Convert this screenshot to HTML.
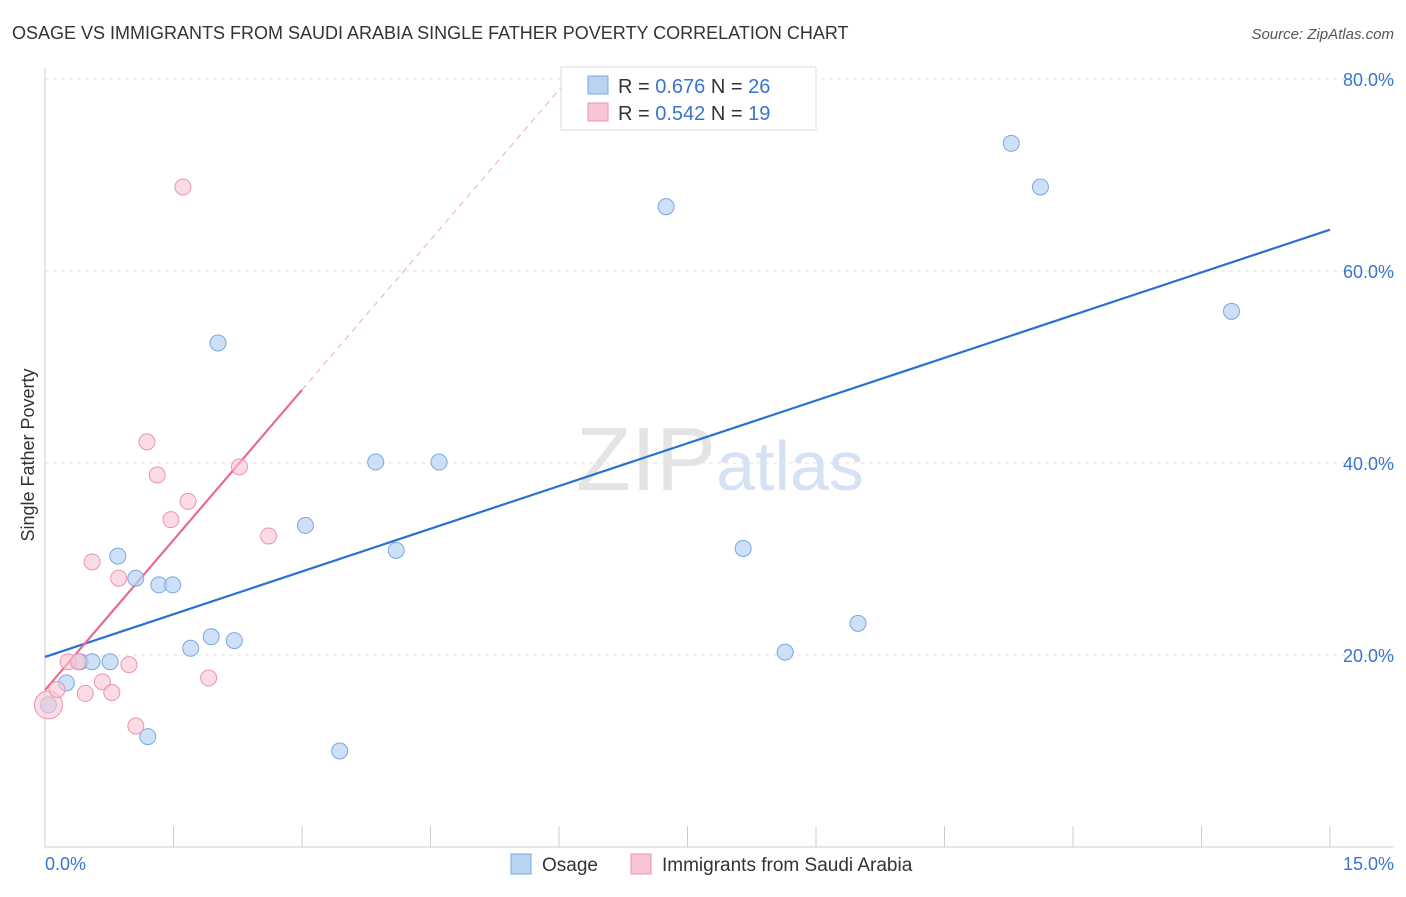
<!DOCTYPE html>
<html><head><meta charset="utf-8"><style>
body{margin:0;background:#fff;font-family:"Liberation Sans",sans-serif;}
svg text{font-family:"Liberation Sans",sans-serif;}
</style></head><body>
<svg id="chart" width="1406" height="892" viewBox="0 0 1406 892">
<text x="12" y="39" font-size="18" fill="#333">OSAGE VS IMMIGRANTS FROM SAUDI ARABIA SINGLE FATHER POVERTY CORRELATION CHART</text>
<text x="1394" y="39" font-size="15" fill="#555" text-anchor="end" font-style="italic">Source: ZipAtlas.com</text>
<text x="720" y="490" font-size="90" fill="#e4e4e4" text-anchor="middle" font-family="Liberation Serif">ZIP<tspan fill="#d4e2f4" font-family="Liberation Sans" font-size="70">atlas</tspan></text>
<text transform="translate(34,455) rotate(-90)" font-size="18" fill="#333" text-anchor="middle">Single Father Poverty</text>
<g id="grid"></g><g id="axes"></g><g id="lines"></g><g id="pts"></g>
<g>
<rect x="561" y="67" width="255" height="63" fill="#fff" stroke="#ddd"/>
<rect x="588" y="76" width="20" height="18" fill="#b9d3f3" stroke="#7aa8e0"/>
<text x="618" y="93" font-size="20" fill="#333">R = <tspan fill="#3a73d0">0.676</tspan>   N = <tspan fill="#3a73d0">26</tspan></text>
<rect x="588" y="103" width="20" height="18" fill="#f8c5d4" stroke="#eb94ae"/>
<text x="618" y="120" font-size="20" fill="#333">R = <tspan fill="#3a73d0">0.542</tspan>   N = <tspan fill="#3a73d0">19</tspan></text>
</g>
<g>
<rect x="511" y="854" width="20" height="20" fill="#b9d3f3" stroke="#7aa8e0"/>
<text x="542" y="871" font-size="19" fill="#333">Osage</text>
<rect x="631" y="854" width="20" height="20" fill="#f8c5d4" stroke="#eb94ae"/>
<text x="662" y="871" font-size="19" fill="#333">Immigrants from Saudi Arabia</text>
</g>
<text x="45" y="870" font-size="18" fill="#3a73d0">0.0%</text>
<text x="1394" y="870" font-size="18" fill="#3a73d0" text-anchor="end">15.0%</text>
</svg>
<script>
const osageX=[0.04,0.25,0.41,0.55,0.76,0.85,1.06,1.20,1.33,1.49,1.70,1.94,2.02,2.21,3.04,3.44,3.86,4.10,4.60,7.25,8.15,8.64,9.49,11.28,11.62,13.85];
const osageY=[14.8,17.1,19.3,19.3,19.3,30.3,28.0,11.5,27.3,27.3,20.7,21.9,52.5,21.5,33.5,10.0,40.1,30.9,40.1,66.7,31.1,20.3,23.3,73.3,68.75,55.8];
const saudiX=[0.04,0.14,0.27,0.39,0.47,0.55,0.67,0.78,0.86,0.98,1.06,1.19,1.31,1.47,1.61,1.67,1.91,2.27,2.61];
const saudiY=[14.8,16.4,19.3,19.3,16.0,29.7,17.2,16.1,28.0,19.0,12.6,42.2,38.75,34.1,68.75,36.0,17.6,39.6,32.4];
const yTicks=[20,40,60,80];
const yTickLabels=["20.0%","40.0%","60.0%","80.0%"];
const osageFit=[19.8,2.967];
const saudiFit=[16.35,10.42];
const NS="http://www.w3.org/2000/svg";
const sx=v=>45+v*(1285/15), sy=v=>847-v*9.6;
function mk(t,a,p){const e=document.createElementNS(NS,t);for(const k in a)e.setAttribute(k,a[k]);document.getElementById(p).appendChild(e);return e;}
yTicks.forEach((t,i)=>{
 const l=mk('line',{x1:45,x2:1394,y1:sy(t),y2:sy(t),stroke:'#e2e2e2','stroke-dasharray':'4,4'},'grid');
 
 
 const tx=mk('text',{x:1394,y:sy(t)+7,'font-size':18,fill:'#3a73d0','text-anchor':'end'},'grid');
 tx.textContent=yTickLabels[i];
 
 
});
const a1=mk('line',{x1:45,x2:45,y1:68,y2:847,stroke:'#ccc'},'axes');


const a2=mk('line',{x1:45,x2:1394,y1:847,y2:847,stroke:'#ccc'},'axes');


for(let i=0;i<=10;i++){const t=mk('line',{x1:sx(i*1.5),x2:sx(i*1.5),y1:826,y2:847,stroke:'#ccc'},'axes');
 
 }
const b=mk('line',{x1:sx(0),y1:sy(osageFit[0]),x2:sx(15),y2:sy(osageFit[0]+15*osageFit[1]),stroke:'#2a6fd6','stroke-width':2.2},'lines');


const p=mk('line',{x1:sx(0),y1:sy(saudiFit[0]),x2:sx(3),y2:sy(saudiFit[0]+3*saudiFit[1]),stroke:'#e86a93','stroke-width':2.2},'lines');


const xe=(80-saudiFit[0])/saudiFit[1];
const pd=mk('line',{x1:sx(3),y1:sy(saudiFit[0]+3*saudiFit[1]),x2:sx(xe),y2:sy(80),stroke:'#eeaabf','stroke-width':1,'stroke-dasharray':'6,5'},'lines');


osageX.forEach((x,i)=>{const c=mk('circle',{cx:sx(x),cy:sy(osageY[i]),r:8,fill:'#b9d3f3','fill-opacity':0.7,stroke:'#7aa8e0'},'pts');
 
 });
saudiX.forEach((x,i)=>{const c=mk('circle',{cx:sx(x),cy:sy(saudiY[i]),r:i==0?14:8,fill:'#f8c5d4','fill-opacity':0.6,stroke:'#eb94ae'},'pts');
 
 });
</script>
</body></html>
